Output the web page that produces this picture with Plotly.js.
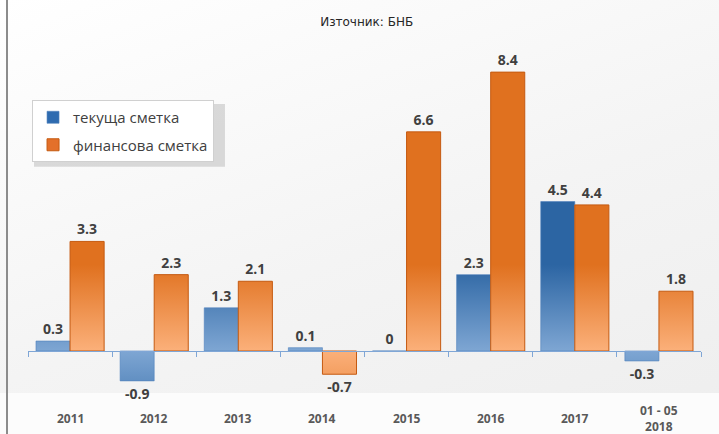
<!DOCTYPE html>
<html>
<head>
<meta charset="utf-8">
<script src="https://cdn.plot.ly/plotly-3.0.1.min.js"></script>
<style>
  html, body { margin: 0; padding: 0; background: #ffffff; }
  #chart {
    width: 719px; height: 434px;
    background:
      linear-gradient(#fcfcfc, #fcfcfc) left bottom / 100% 41px no-repeat,
      linear-gradient(160deg, #ffffff 0%, #f4f4f4 55%, #eeeeee 100%);
  }
</style>
</head>
<body>
<div id="chart"></div>
<script>
const categories = ['2011', '2012', '2013', '2014', '2015', '2016', '2017', '01 - 05<br>2018'];
const currentAccount = [0.3, -0.9, 1.3, 0.1, 0, 2.3, 4.5, -0.3];
const financialAccount = [3.3, 2.3, 2.1, -0.7, 6.6, 8.4, 4.4, 1.8];
const seriesNames = ['текуща сметка', 'финансова сметка'];
const chartTitle = 'Източник: БНБ';

const yMin = -1.235, yMax = 9.367;
const zeroFrac = (0 - yMin) / (yMax - yMin);

const numFont = { family: 'Open Sans, Liberation Sans, sans-serif', size: 14, color: '#404040', weight: 'bold' };

const data = [
  {
    type: 'bar', name: seriesNames[0], x: categories, y: currentAccount,
    text: currentAccount.map(String), textposition: 'outside', cliponaxis: false,
    textfont: numFont,
    marker: { color: '#2E6BB0', line: { color: '#4F81BD', width: 0.6 } },
    legendgroup: 'a', hoverinfo: 'none'
  },
  {
    type: 'bar', name: seriesNames[1], x: categories, y: financialAccount,
    text: financialAccount.map(String), textposition: 'outside', cliponaxis: false,
    textfont: numFont,
    marker: { color: '#E3702A', line: { color: '#C55A11', width: 1 } },
    legendgroup: 'b', hoverinfo: 'none'
  }
];

const annotations = categories.map((c, i) => ({
  x: i, xref: 'x', y: -0.074, yref: 'paper', yanchor: 'middle', xanchor: 'center',
  text: c, showarrow: false,
  font: { family: 'Open Sans, Liberation Sans, sans-serif', size: 12, color: '#595959', weight: 'bold' }
}));

const layout = {
  width: 719, height: 434,
  margin: { l: 28, r: 18, t: 40, b: 42 },
  paper_bgcolor: 'rgba(0,0,0,0)',
  plot_bgcolor: 'rgba(0,0,0,0)',
  barmode: 'group', bargap: 0.19, bargroupgap: 0,
  title: {
    text: chartTitle, x: 0.51, xref: 'container', y: 0.949, yref: 'container',
    xanchor: 'center', yanchor: 'middle',
    font: { family: 'DejaVu Sans, sans-serif', size: 12, color: '#262626' }
  },
  xaxis: {
    type: 'category', range: [-0.5, categories.length - 0.5],
    anchor: 'free', position: zeroFrac,
    showline: true, linecolor: '#7FA6D6', linewidth: 1,
    ticks: 'outside', tickson: 'boundaries', ticklen: 5, tickcolor: '#7FA6D6',
    showticklabels: false, showgrid: false, zeroline: false, fixedrange: true
  },
  yaxis: {
    range: [yMin, yMax], showticklabels: false, showgrid: false, zeroline: false,
    showline: false, ticks: '', fixedrange: true
  },
  showlegend: true,
  legend: {
    x: 0.006, xanchor: 'left', y: 0.8295, yanchor: 'top',
    bgcolor: '#ffffff', bordercolor: '#D0D0D0', borderwidth: 1,
    traceorder: 'grouped', tracegroupgap: 5,
    font: { family: 'Open Sans, Noto Sans, sans-serif', size: 15, color: '#404040' },
    itemwidth: 30
  },
  annotations: annotations,
  shapes: [
    { type: 'line', xref: 'paper', yref: 'paper', x0: -0.0312, x1: -0.0312, y0: -0.2, y1: 1.2,
      line: { color: '#8C8C8C', width: 2 } },
    { type: 'rect', xref: 'paper', yref: 'paper', layer: 'below',
      x0: 0.0089, x1: 0.2927, y0: 0.640, y1: 0.818,
      fillcolor: 'rgba(0,0,0,0.13)', line: { width: 0 } }
  ]
};

const gd = document.getElementById('chart');
Plotly.newPlot(gd, data, layout, { staticPlot: true, displayModeBar: false }).then(() => {
  const ya = gd._fullLayout.yaxis;
  const yTop = ya.l2p(2.6), yBot = ya.l2p(-2.6);
  const svg = gd.querySelector('svg.main-svg');
  const NS = 'http://www.w3.org/2000/svg';
  let defs = svg.querySelector('defs');
  if (!defs) { defs = document.createElementNS(NS, 'defs'); svg.insertBefore(defs, svg.firstChild); }
  const grads = [
    { id: 'gradBlue', dark: '#2C65A3', light: '#7EA6D3' },
    { id: 'gradOrange', dark: '#E0711F', light: '#FBB07A' }
  ];
  grads.forEach(g => {
    const lg = document.createElementNS(NS, 'linearGradient');
    lg.setAttribute('id', g.id);
    lg.setAttribute('gradientUnits', 'userSpaceOnUse');
    lg.setAttribute('x1', 0); lg.setAttribute('x2', 0);
    lg.setAttribute('y1', yTop); lg.setAttribute('y2', yBot);
    [[0, g.dark], [0.5, g.light], [1, g.dark]].forEach(([o, c]) => {
      const s = document.createElementNS(NS, 'stop');
      s.setAttribute('offset', o); s.setAttribute('stop-color', c);
      lg.appendChild(s);
    });
    defs.appendChild(lg);
  });
  gd.querySelectorAll('.barlayer .trace').forEach((tr, i) => {
    tr.querySelectorAll('path').forEach(p => { p.style.fill = 'url(#' + grads[i].id + ')'; });
  });
});
</script>
</body>
</html>
